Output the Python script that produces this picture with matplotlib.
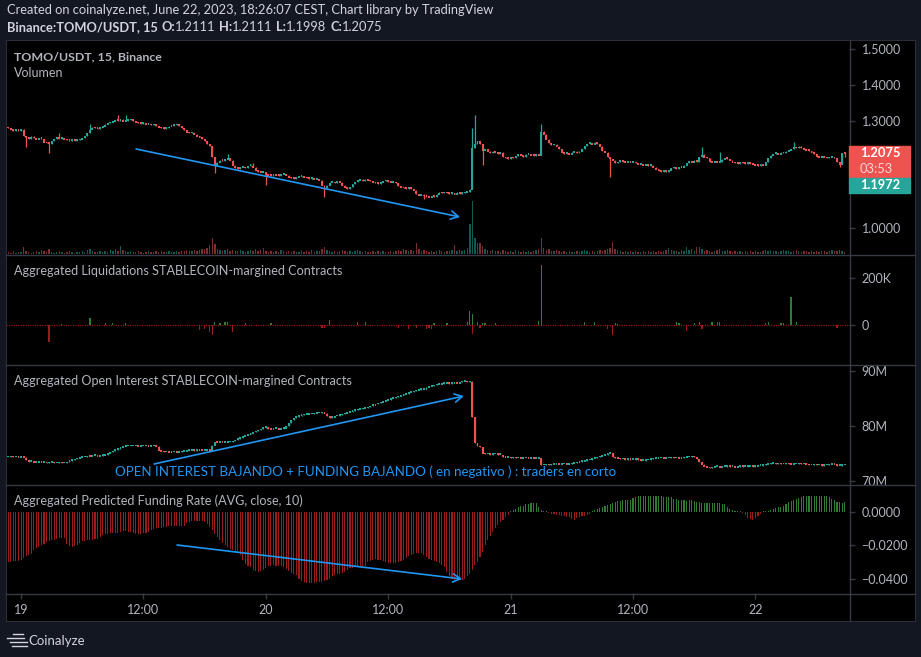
import numpy as np
import matplotlib
matplotlib.use("Agg")
import matplotlib.pyplot as plt
from matplotlib.lines import Line2D
from matplotlib.patches import Rectangle

# ---- chart values: 15 min candles, index 5 = 19 Jun 00:00 ----
tick_pos = [5, 53, 101, 149, 197, 245, 293]
tick_labels = ["19", "12:00", "20", "12:00", "21", "12:00", "22"]

price_first_open = 1.282
price_close = [
    1.280, 1.276, 1.272, 1.275, 1.272, 1.276, 1.258, 1.254,
    1.250, 1.256, 1.252, 1.248, 1.252, 1.250, 1.240, 1.238,
    1.236, 1.244, 1.250, 1.252, 1.250, 1.252, 1.248, 1.246,
    1.244, 1.246, 1.244, 1.246, 1.248, 1.252, 1.258, 1.266,
    1.276, 1.282, 1.280, 1.278, 1.282, 1.284, 1.290, 1.294,
    1.296, 1.298, 1.302, 1.300, 1.304, 1.298, 1.300, 1.302,
    1.304, 1.300, 1.296, 1.294, 1.292, 1.294, 1.290, 1.292,
    1.288, 1.290, 1.286, 1.282, 1.280, 1.278, 1.280, 1.284,
    1.286, 1.288, 1.290, 1.286, 1.280, 1.274, 1.268, 1.266,
    1.268, 1.262, 1.256, 1.254, 1.250, 1.244, 1.236, 1.230,
    1.200, 1.176, 1.184, 1.190, 1.188, 1.192, 1.196, 1.190,
    1.176, 1.168, 1.166, 1.170, 1.172, 1.168, 1.174, 1.176,
    1.170, 1.162, 1.158, 1.156, 1.158, 1.150, 1.148, 1.146,
    1.150, 1.148, 1.146, 1.150, 1.152, 1.148, 1.142, 1.140,
    1.138, 1.142, 1.144, 1.146, 1.142, 1.140, 1.138, 1.140,
    1.136, 1.138, 1.134, 1.120, 1.112, 1.120, 1.128, 1.130,
    1.126, 1.132, 1.128, 1.120, 1.114, 1.110, 1.116, 1.124,
    1.130, 1.134, 1.136, 1.132, 1.136, 1.134, 1.132, 1.128,
    1.126, 1.124, 1.128, 1.132, 1.134, 1.130, 1.128, 1.130,
    1.126, 1.118, 1.114, 1.112, 1.110, 1.114, 1.110, 1.106,
    1.096, 1.092, 1.094, 1.090, 1.088, 1.086, 1.090, 1.088,
    1.094, 1.100, 1.098, 1.102, 1.098, 1.096, 1.098, 1.094,
    1.100, 1.096, 1.098, 1.100, 1.102, 1.108, 1.224, 1.236,
    1.244, 1.236, 1.218, 1.222, 1.214, 1.210, 1.214, 1.212,
    1.208, 1.212, 1.200, 1.196, 1.194, 1.198, 1.196, 1.202,
    1.206, 1.204, 1.200, 1.206, 1.208, 1.204, 1.202, 1.206,
    1.204, 1.270, 1.262, 1.248, 1.238, 1.232, 1.234, 1.228,
    1.222, 1.212, 1.208, 1.210, 1.206, 1.212, 1.214, 1.210,
    1.214, 1.222, 1.230, 1.236, 1.238, 1.234, 1.240, 1.236,
    1.228, 1.216, 1.212, 1.200, 1.194, 1.190, 1.182, 1.186,
    1.190, 1.186, 1.184, 1.188, 1.184, 1.186, 1.182, 1.178,
    1.180, 1.176, 1.178, 1.174, 1.176, 1.170, 1.164, 1.160,
    1.158, 1.162, 1.158, 1.162, 1.168, 1.170, 1.166, 1.172,
    1.170, 1.176, 1.182, 1.188, 1.184, 1.190, 1.186, 1.200,
    1.206, 1.198, 1.196, 1.186, 1.184, 1.188, 1.184, 1.186,
    1.192, 1.196, 1.194, 1.190, 1.184, 1.182, 1.180, 1.184,
    1.182, 1.180, 1.184, 1.180, 1.178, 1.176, 1.174, 1.178,
    1.176, 1.186, 1.196, 1.204, 1.208, 1.210, 1.206, 1.212,
    1.210, 1.214, 1.218, 1.222, 1.226, 1.224, 1.228, 1.224,
    1.220, 1.218, 1.216, 1.212, 1.208, 1.200, 1.198, 1.202,
    1.198, 1.196, 1.198, 1.200, 1.196, 1.186, 1.178, 1.2111,
    1.2075,
]
# long wicks (candle index -> price)
price_high = {20: 1.266, 32: 1.290, 43: 1.316, 46: 1.316, 86: 1.206, 96: 1.182,
              182: 1.280, 183: 1.316, 209: 1.290, 272: 1.226, 279: 1.212, 308: 1.240,
              328: 1.2111}
price_low = {7: 1.226, 16: 1.210, 81: 1.155, 101: 1.120, 124: 1.086, 163: 1.080,
             186: 1.176, 236: 1.143, 326: 1.172, 328: 1.1998}

volume = [
    2, 1, 3, 1, 2, 2, 7, 3, 2, 1, 2, 3, 2, 4, 3, 2,
    5, 2, 1, 2, 3, 2, 1, 2, 3, 2, 1, 2, 2, 3, 2, 4,
    5, 3, 2, 2, 3, 2, 3, 2, 4, 3, 5, 3, 8, 4, 3, 2,
    3, 2, 2, 3, 2, 1, 2, 3, 2, 2, 3, 2, 3, 2, 2, 3,
    2, 2, 3, 2, 3, 3, 4, 3, 3, 4, 3, 4, 5, 5, 6, 9,
    16, 10, 5, 4, 3, 4, 5, 3, 4, 3, 3, 4, 3, 2, 3, 4,
    3, 5, 3, 4, 6, 3, 2, 3, 2, 3, 2, 4, 3, 2, 3, 2,
    3, 2, 2, 3, 2, 3, 2, 4, 2, 3, 3, 5, 7, 4, 3, 2,
    3, 2, 3, 4, 3, 2, 3, 2, 3, 4, 3, 2, 3, 2, 2, 3,
    2, 3, 2, 3, 2, 2, 3, 2, 3, 4, 3, 5, 4, 3, 4, 3,
    11, 5, 3, 4, 3, 2, 3, 2, 3, 4, 3, 2, 3, 3, 4, 9,
    3, 4, 3, 4, 6, 30, 53, 16, 11, 11, 8, 5, 4, 3, 4, 3,
    3, 2, 4, 3, 2, 3, 2, 4, 3, 2, 3, 2, 3, 2, 3, 4,
    5, 16, 6, 4, 5, 3, 3, 4, 3, 2, 3, 2, 3, 2, 2, 3,
    2, 3, 4, 3, 2, 3, 2, 3, 4, 3, 4, 5, 6, 12, 5, 4,
    3, 2, 3, 2, 3, 2, 3, 2, 2, 3, 2, 3, 2, 3, 2, 3,
    2, 3, 4, 6, 4, 3, 3, 2, 4, 3, 7, 4, 5, 3, 7, 7,
    5, 3, 4, 3, 2, 3, 4, 5, 3, 3, 4, 3, 2, 3, 2, 3,
    2, 3, 2, 3, 2, 3, 2, 2, 3, 4, 3, 4, 3, 3, 2, 3,
    4, 3, 3, 2, 3, 4, 3, 2, 3, 3, 2, 3, 2, 3, 2, 3,
    3, 2, 3, 4, 3, 3, 4, 3, 2,
]

# liquidations in K USD (candle index -> value)
liq_long = {21: 6, 32: 30, 38: 10, 41: 10, 46: 10, 81: 12, 83: 10, 85: 15, 86: 12,
            93: 10, 103: 10, 126: 24, 137: 14, 140: 15, 167: 10, 172: 8, 180: 12,
            181: 60, 182: 47, 184: 12, 186: 8, 187: 10, 191: 8, 208: 16, 209: 255,
            226: 13, 230: 12, 238: 8, 239: 6, 262: 12, 263: 10, 269: 8, 271: 12,
            276: 12, 278: 12, 279: 12, 297: 10, 298: 12, 303: 8, 304: 8, 307: 120,
            309: 12}
liq_short = {16: -70, 75: -22, 77: -18, 79: -30, 80: -40, 88: -28, 123: -12, 124: -10,
             153: -12, 157: -14, 160: -13, 164: -15, 165: -12, 166: -17, 182: -38,
             185: -10, 235: -14, 237: -42, 266: -26, 272: -16, 325: -12}

oi_first_open = 74.4
oi_close = [
    74.4, 74.5, 74.4, 74.4, 74.3, 74.4, 74.3, 73.9, 73.5,
    73.5, 73.4, 73.4, 73.5, 73.4, 73.4, 73.3, 73.4, 73.4, 73.3, 73.3, 73.4, 73.3, 73.3,
    73.5, 73.7, 73.8, 74.0, 74.1, 74.3, 74.4, 74.4,
    74.6, 74.5, 74.6, 74.6, 74.5, 74.6, 74.7, 74.8,
    75.0, 75.3, 75.5, 75.7, 75.9, 76.1, 76.3, 76.4, 76.4,
    76.4, 76.4, 76.4, 76.3, 76.4, 76.4, 76.4, 76.3, 76.4, 76.4, 76.3,
    75.6,
    75.4, 75.3, 75.3, 75.2, 75.3, 75.3, 75.2, 75.3, 75.4, 75.4,
    75.5, 75.6, 75.6, 75.5, 75.6, 75.7, 75.6, 75.6, 75.7, 75.6,
    76.5, 77.1, 77.0, 77.1, 77.0, 77.0, 77.1, 77.1,
    77.3, 77.5, 77.7, 77.9, 78.1, 78.3, 78.5, 78.7, 78.9, 79.1, 79.3, 79.5,
    79.7, 79.8, 79.5, 79.4, 79.5, 79.5, 79.4, 79.5, 79.6,
    80.0, 80.6, 81.1, 81.5, 81.7, 81.9, 82.0, 82.1, 82.1, 82.2, 82.2, 82.3,
    82.4, 82.4, 82.5, 82.3, 81.8, 81.5,
    81.6, 81.8, 81.9, 82.0, 82.2, 82.3, 82.5, 82.6, 82.8, 82.9, 83.0, 83.1, 83.2, 83.3,
    83.5, 83.7, 83.8, 84.0, 84.2, 84.3, 84.5, 84.7, 84.8, 85.0, 85.1, 85.3, 85.4,
    85.6, 85.8, 85.9, 86.1, 86.2, 86.4, 86.5, 86.6, 86.7, 86.7,
    87.0, 87.2, 87.3, 87.5, 87.6, 87.6, 87.7, 87.8, 87.8, 87.7, 87.8, 87.9, 87.8,
    88.0, 88.1, 88.1, 88.0, 88.1, 81.7, 76.9, 76.4, 76.2,
    75.0, 74.9, 74.9, 74.8, 74.9, 74.9, 74.8, 74.8,
    74.4, 74.3, 74.3, 74.2, 74.3, 74.2, 74.2, 74.1, 74.2, 74.2, 74.1, 74.2, 74.1, 74.1, 74.2,
    72.9, 72.9, 73.0, 72.9, 73.0, 73.0, 73.1, 73.0, 73.1, 73.1, 73.0, 73.1,
    73.2, 73.3, 73.4, 73.5, 73.6, 73.7, 73.8, 73.9, 74.1, 74.2, 74.4, 74.5, 74.7, 74.8, 75.0, 75.1,
    74.4, 74.2, 74.1, 74.0, 74.0, 73.9, 74.0, 73.9, 73.9, 74.0, 73.9, 73.7, 73.7,
    73.8, 73.9, 74.0, 74.1, 74.1, 74.2, 74.2, 74.1, 74.2, 74.2, 74.3, 74.2, 74.2, 74.1, 74.2, 74.3,
    74.4, 74.4, 74.5, 74.4, 74.0, 73.5, 73.0, 72.7, 72.5, 72.4,
    72.5, 72.6, 72.6, 72.5, 72.6, 72.6, 72.7, 72.6, 72.6, 72.5, 72.6, 72.7, 72.6, 72.6,
    72.7, 72.7, 72.6, 72.7, 72.8,
    72.8, 72.9, 73.0, 73.1, 73.2, 73.2,
    73.1, 73.2, 73.1, 73.1, 73.2, 73.1, 73.0, 73.1, 73.1, 73.2, 73.1, 73.1, 73.0,
    72.9, 72.9, 73.0, 72.9, 72.9, 72.8, 72.9, 72.9, 73.0, 73.1, 73.0, 72.8, 72.8, 72.9, 72.9,
]

# predicted funding rate, x 1e-4
funding = [
    -298, -298, -296, -296, -294, -285, -275, -265, -258, -250, -225, -216, -210,
    -200, -190, -182, -176, -170, -165, -160, -156, -156, -158,
    -190, -205, -208, -206, -200, -185, -175, -172, -170, -168, -165, -162, -160,
    -148, -140, -134, -130, -128, -128, -126, -124, -118, -116, -116, -118, -120,
    -126, -130, -132, -130, -128, -124, -118, -110, -104, -98, -96, -94, -92,
    -88, -86, -84, -82, -82, -84, -84, -82, -68, -60, -56, -54, -52, -54, -56, -58,
    -70, -90, -110, -130, -150, -170, -185, -196, -210, -220, -226, -232, -236,
    -260, -290, -310, -325, -332, -350, -356, -358, -355, -350,
    -334, -326, -322, -320, -322, -324, -326, -330, -340, -355, -365, -372, -378,
    -400, -412, -420, -424, -426, -426, -424, -422, -420, -418, -414, -408,
    -400, -385, -375, -372, -370, -366, -360, -345, -338, -334, -332, -330, -328, -326, -322,
    -300, -292, -286, -284, -285, -288, -292, -300, -306, -308, -306, -304, -300, -296, -290,
    -278, -266, -258, -250, -246, -244, -248, -256, -270, -282, -290, -296, -300, -306, -315, -330,
    -360, -385, -400, -410, -412, -410, -405, -402, -385, -372, -345, -320, -300,
    -270, -240, -200, -170, -145, -120, -98, -80, -62, -45, -30, -18,
    8, 14, 20, 28, 34, 38, 46, 50, 54, 54, 52, 30, 12, 8, 6,
    -6, -10, -14, -16, -20, -22, -24, -28, -32, -40, -46, -38, -30, -26, -22, -18, -12,
    8, 14, 20, 26, 30, 34, 40, 48, 56, 60, 64, 68, 70, 72, 72, 74,
    82, 90, 94, 96, 98, 98, 98, 98, 98, 96, 96, 94, 92, 92, 90, 88,
    80, 76, 72, 72, 70, 68, 70, 70, 64, 60, 58, 56, 54, 54, 56, 56, 54, 52, 54, 50, 48,
    32, 20, 12, 8, 6, 4, -8, -20, -34, -42, -46, -38, -24, -10, 4, 8, 6, 10,
    18, 24, 28, 32, 36, 50, 60, 68, 72, 76,
    84, 90, 94, 96, 98, 98, 98, 98, 98, 98, 96, 94, 90, 80, 70, 62, 58, 52, 60,
]

price_ticks = [1.0, 1.1, 1.2, 1.3, 1.4, 1.5]
# 1.1000 and 1.2000 sit behind the last-price labels
price_tick_labels = ["1.0000", "", "", "1.3000", "1.4000", "1.5000"]
liq_ticks = [0, 200]
liq_tick_labels = ["0", "200K"]
oi_ticks = [70, 80, 90]
oi_tick_labels = ["70M", "80M", "90M"]
fund_ticks = [0.0, -0.02, -0.04]
fund_tick_labels = ["0.0000", "\u22120.0200", "\u22120.0400"]

last_o, last_h, last_l, last_c = 1.2111, 1.2111, 1.1998, 1.2075
other_price = 1.1972
countdown = "03:53"

# hand drawn trend lines (candle index, value)
price_arrow = [(50.1, 1.221), (177.2, 1.031)]
oi_arrow = [(57.2, 73.09), (178.7, 85.45)]
fund_arrow = [(66.2, -0.0198), (178.0, -0.0402)]
note_text = "OPEN INTEREST BAJANDO + FUNDING BAJANDO ( en negativo ) : traders en corto"
note_pos = (41.9, 71.64)

# ---- style ----
W, H = 921, 657
BG = "#131722"
EDGE = "#363a45"
TXT = "#b2b5be"
HEAD = "#d1d4dc"
UP = "#26a69a"
DOWN = "#ef5350"
VOL_UP = "#145a54"
VOL_DN = "#7a2e2d"
F_UP = "#2e7d32"
F_DN = "#9b1c1c"
BLUE = "#2196f3"

plt.rcParams["font.family"] = ["Lato", "DejaVu Sans"]

fig = plt.figure(figsize=(W / 100, H / 100), dpi=100, facecolor=BG)


def box(top, bottom, left=6, right=849):
    return [left / W, 1 - bottom / H, (right - left) / W, (bottom - top) / H]


frame = fig.add_axes(box(40, 621, 6, 915))
frame.set_facecolor("black")
frame.set_xticks([])
frame.set_yticks([])
for s in frame.spines.values():
    s.set_color("#2a2e39")
frame.set_zorder(-1)

ax_v = fig.add_axes(box(40, 254))
ax_p = fig.add_axes(box(40, 254))
ax_l = fig.add_axes(box(255, 364))
ax_o = fig.add_axes(box(365, 484))
ax_f = fig.add_axes(box(485, 593))
ax_v.set_zorder(0.5)
ax_p.set_zorder(1)

x = np.arange(len(price_close))
for ax in (ax_v, ax_p, ax_l, ax_o, ax_f):
    ax.set_facecolor("none")
    ax.set_xlim(-0.9, 329.7)
    for s in ax.spines.values():
        s.set_visible(False)
    ax.tick_params(axis="x", bottom=False, labelbottom=False)
    ax.yaxis.tick_right()
    ax.tick_params(axis="y", length=4, width=1, color=EDGE, labelcolor=TXT,
                   labelsize=9, pad=5)
ax_v.set_yticks([])


def draw_candles(ax, opens, closes, highs, lows, min_body):
    up = closes >= opens
    cols = np.where(up, UP, DOWN)
    ax.vlines(x, lows, highs, colors=cols, linewidth=0.9, zorder=2)
    ax.bar(x, np.maximum(np.abs(closes - opens), min_body), width=0.74,
           bottom=np.minimum(opens, closes) - min_body / 4, color=cols, linewidth=0, zorder=3)
    return up


# price + volume
pc = np.array(price_close)
po = np.r_[price_first_open, pc[:-1]]
ph = np.maximum(po, pc)
pl = np.minimum(po, pc)
for i, v in price_high.items():
    ph[i] = v
for i, v in price_low.items():
    pl[i] = v
up = draw_candles(ax_p, po, pc, ph, pl, 0.005)
ax_p.set_ylim(0.9277, 1.5254)
ax_p.set_yticks(price_ticks)
ax_p.set_yticklabels(price_tick_labels)

ax_v.bar(x, volume, width=0.55, color=np.where(up, VOL_UP, VOL_DN), linewidth=0)
ax_v.set_ylim(0, 214)

# liquidations
ax_l.axhline(0, color=F_DN, lw=0.9, ls=(0, (0.9, 1.0)), zorder=1)
ax_l.bar(list(liq_long.keys()), list(liq_long.values()), width=0.5, color=F_UP, linewidth=0, zorder=2)
ax_l.bar(list(liq_short.keys()), list(liq_short.values()), width=0.5, color=F_DN, linewidth=0, zorder=2)
ax_l.set_ylim(-165, 299)
ax_l.set_yticks(liq_ticks)
ax_l.set_yticklabels(liq_tick_labels)

# open interest
oc = np.array(oi_close)
oo = np.r_[oi_first_open, oc[:-1]]
draw_candles(ax_o, oo, oc, np.maximum(oo, oc), np.minimum(oo, oc), 0.3)
ax_o.set_ylim(69.45, 91.09)
ax_o.set_yticks(oi_ticks)
ax_o.set_yticklabels(oi_tick_labels)

# funding
fr = np.array(funding) / 1e4
ax_f.bar(np.arange(len(fr)), fr, width=0.42, color=np.where(fr >= 0, F_UP, F_DN), linewidth=0)
ax_f.set_ylim(-0.0486, 0.0162)
ax_f.set_yticks(fund_ticks)
ax_f.set_yticklabels(fund_tick_labels)
ax_f.set_xticks(tick_pos)
ax_f.set_xticklabels(tick_labels)
ax_f.tick_params(axis="x", bottom=True, labelbottom=True, length=4, width=1,
                 color=EDGE, labelcolor=TXT, labelsize=9, pad=4)


def trend(ax, pts):
    (x0, y0), (x1, y1) = pts
    ax.annotate("", xy=(x1, y1), xytext=(x0, y0), annotation_clip=False,
                arrowprops=dict(arrowstyle="->,head_length=0.55,head_width=0.3",
                                color=BLUE, lw=1.2, shrinkA=0, shrinkB=0), zorder=5)


trend(ax_p, price_arrow)
trend(ax_o, oi_arrow)
trend(ax_f, fund_arrow)
ax_o.text(note_pos[0], note_pos[1], note_text, color=BLUE, fontsize=9.65, va="center", zorder=6)

# pane separators and right scale border
for py in (254.5, 364.5, 484.5, 593.5):
    fig.add_artist(Line2D([6 / W, 915 / W], [1 - py / H] * 2, color=EDGE, lw=1))
fig.add_artist(Line2D([849.5 / W] * 2, [1 - 40 / H, 1 - 621 / H], color=EDGE, lw=1))

# pane titles
fig.text(14 / W, 1 - 57 / H, "TOMO/USDT, 15, Binance", color=TXT, fontsize=8.9, fontweight="bold", va="center")
fig.text(14 / W, 1 - 73 / H, "Volumen", color=TXT, fontsize=9.0, va="center")
fig.text(14 / W, 1 - 271 / H, "Aggregated Liquidations STABLECOIN-margined Contracts", color=TXT, fontsize=9.05, va="center")
fig.text(14 / W, 1 - 381 / H, "Aggregated Open Interest STABLECOIN-margined Contracts", color=TXT, fontsize=9.05, va="center")
fig.text(14 / W, 1 - 501 / H, "Aggregated Predicted Funding Rate (AVG, close, 10)", color=TXT, fontsize=9.05, va="center")

# last price labels
y_last = H - ax_p.transData.transform((0, last_c))[1]
fig.add_artist(Rectangle((849 / W, 1 - (y_last + 23) / H), 61 / W, 31 / H, color=DOWN, zorder=5))
fig.add_artist(Rectangle((849 / W, 1 - (y_last + 39) / H), 61 / W, 15 / H, color=UP, zorder=5))
fig.text(860 / W, 1 - (y_last - 1) / H, f"{last_c:.4f}", color="white", fontsize=9.3, fontweight="bold", va="center", zorder=6)
fig.text(860 / W, 1 - (y_last + 15) / H, countdown, color="#f8d7d7", fontsize=9.3, va="center", zorder=6)
fig.text(860 / W, 1 - (y_last + 31.5) / H, f"{other_price:.4f}", color="white", fontsize=9.3, fontweight="bold", va="center", zorder=6)

# header
renderer = fig.canvas.get_renderer()
fig.text(7 / W, 1 - 10 / H, "Created on coinalyze.net, June 22, 2023, 18:26:07 CEST, Chart library by TradingView",
         color=HEAD, fontsize=9.3, va="center")
sp = 3.5
parts = [("Binance:TOMO/USDT, 15", "bold", sp), ("O:", "bold", 0), (f"{last_o:.4f}", "normal", sp),
         ("H:", "bold", 0), (f"{last_h:.4f}", "normal", sp), ("L:", "bold", 0),
         (f"{last_l:.4f}", "normal", sp), ("C:", "bold", 0), (f"{last_c:.4f}", "normal", 0)]
px = 7
for s, weight, gap in parts:
    t = fig.text(px / W, 1 - 27 / H, s, color=HEAD, fontsize=9.3, fontweight=weight, va="center")
    px += t.get_window_extent(renderer).width + gap

# footer logo
for yy, x0, x1 in ((634, 13, 23), (638, 7, 24), (642, 10, 27), (646, 12, 27)):
    fig.add_artist(Line2D([x0 / W, x1 / W], [1 - yy / H] * 2, color="#d1d4dc", lw=1))
fig.text(28 / W, 1 - 641 / H, "Coinalyze", color="#d1d4dc", fontsize=9.5, va="center")

fig.savefig("out.png", dpi=100, facecolor=BG)
